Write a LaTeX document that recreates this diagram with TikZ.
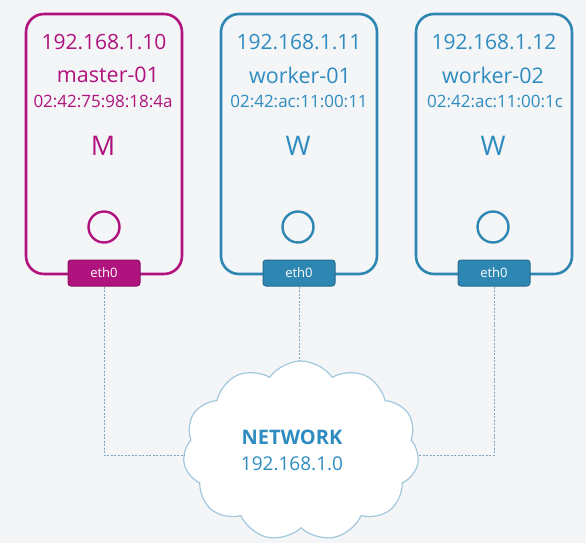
\documentclass[tikz,border=0pt]{standalone}
\usepackage{fontspec}
\setmainfont{Open Sans}
\usetikzlibrary{shapes.symbols}
\definecolor{mag}{HTML}{B0127E}
\definecolor{blu}{HTML}{2E86B3}
\definecolor{blutext}{HTML}{2F8CC0}
\definecolor{bg}{HTML}{F4F5F7}
\definecolor{cloudc}{HTML}{A2C8DC}
\definecolor{linec}{HTML}{7FA6BD}
\begin{document}
\begin{tikzpicture}[x=1pt,y=-1pt,
  hostbox/.style={draw=#1,line width=2.6pt,rounded corners=18pt,fill=bg,minimum width=156pt,minimum height=260pt,inner sep=0pt},
  ethbox/.style={draw=#1!80!black,line width=1pt,fill=#1,rounded corners=3pt,minimum width=72pt,minimum height=26pt,inner sep=0pt,text=white,font=\fontsize{13}{13}\selectfont},
  iptext/.style={text=#1,font=\fontsize{21}{21}\selectfont,inner sep=0pt},
  nametext/.style={text=#1,font=\fontsize{21.5}{21.5}\selectfont,inner sep=0pt},
  mactext/.style={text=#1,font=\fontsize{17}{17}\selectfont,inner sep=0pt},
  lettertext/.style={text=#1,font=\fontsize{27}{27}\selectfont,inner sep=0pt},
  port/.style={draw=#1,line width=2.4pt,circle,minimum size=31pt,inner sep=0pt},
  link/.style={draw=linec,line width=0.7pt,dash pattern=on 2pt off 1.5pt}]
\fill[bg] (0,0) rectangle (586,543);
\useasboundingbox (0,0) rectangle (586,543);

% master
\node[hostbox=mag] (m) at (104,144) {};
\node[iptext=mag] (mip) at (104,42) {192.168.1.10};
\node[nametext=mag] (mname) at (108,75) {master-01};
\node[mactext=mag] (mmac) at (103,101) {02:42:75:98:18:4a};
\node[lettertext=mag] (ml) at (103,146) {M};
\node[port=mag] (mp) at (104,227) {};
\node[ethbox=mag] (me) at (104,273) {eth0};

% worker 1
\node[hostbox=blu] (w1) at (299,144) {};
\node[iptext=blutext] (w1ip) at (299,42) {192.168.1.11};
\node[nametext=blutext] (w1name) at (300,75) {worker-01};
\node[mactext=blutext] (w1mac) at (299,101) {02:42:ac:11:00:11};
\node[lettertext=blutext] (w1l) at (298,146) {W};
\node[port=blu] (w1p) at (298,227) {};
\node[ethbox=blu] (w1e) at (299,273) {eth0};

% worker 2
\node[hostbox=blu] (w2) at (494,144) {};
\node[iptext=blutext] (w2ip) at (494,42) {192.168.1.12};
\node[nametext=blutext] (w2name) at (493,75) {worker-02};
\node[mactext=blutext] (w2mac) at (495,101) {02:42:ac:11:00:1c};
\node[lettertext=blutext] (w2l) at (493,146) {W};
\node[port=blu] (w2p) at (493,227) {};
\node[ethbox=blu] (w2e) at (494,273) {eth0};

% cloud
\node[cloud,cloud puffs=11,cloud puff arc=110,aspect=1.3,draw=cloudc,line width=1.2pt,fill=white,minimum width=236pt,minimum height=180pt,inner sep=0pt] (net) at (301,451) {};
\node[text=blutext,font=\bfseries\fontsize{20}{20}\selectfont,inner sep=0pt] (nt) at (292,437) {NETWORK};
\node[text=blutext,font=\fontsize{19}{19}\selectfont,inner sep=0pt] (nip) at (292,464) {192.168.1.0};

% links
\coordinate (mc) at (104,455);
\coordinate (w2c) at (494,455);
\draw[link] (me.south) -- (mc) -- (mc -| net.west);
\draw[link] (w1e.south) -- (w1e.south |- net.north);
\draw[link] (w2e.south) -- (w2c) -- (w2c -| net.east);
\end{tikzpicture}
\end{document}
